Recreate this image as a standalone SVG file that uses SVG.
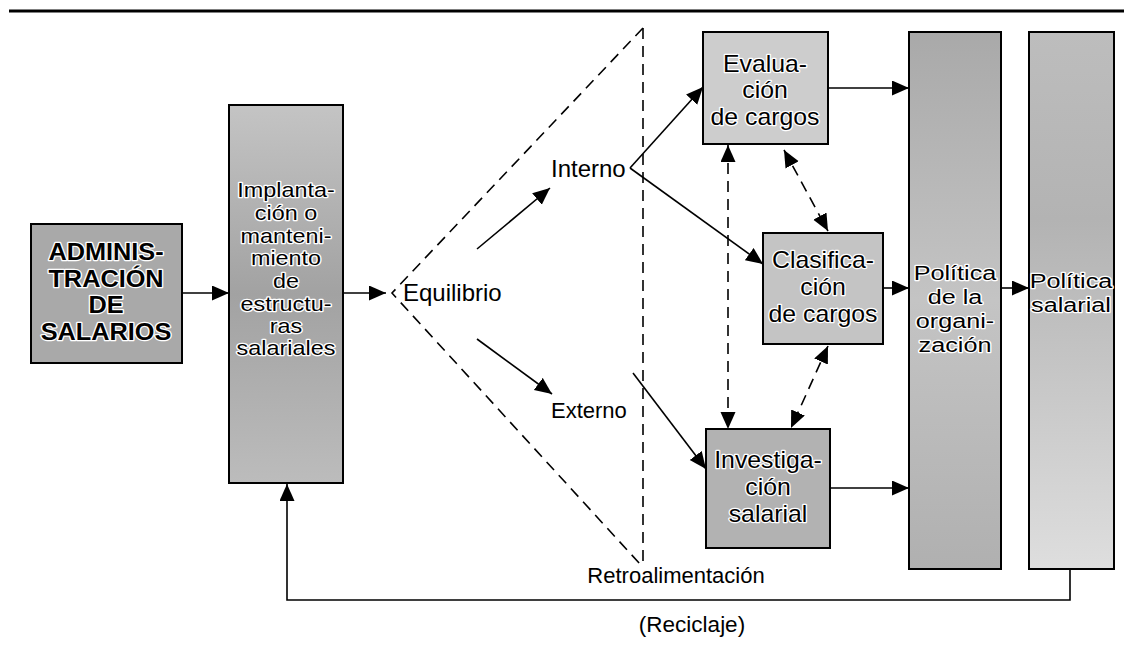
<svg xmlns="http://www.w3.org/2000/svg" width="1124" height="655" viewBox="0 0 1124 655">
<style>
.box{stroke:#000;stroke-width:2}
.t{font-family:"Liberation Sans",Arial,sans-serif;fill:#000;text-anchor:middle;stroke:#fff;stroke-width:2.5;paint-order:stroke;stroke-linejoin:round}
.s20{font-size:20px}
.s21{font-size:21px}
.s23{font-size:23px}
.b{font-weight:bold;font-size:23px}
.lbl{font-family:"Liberation Sans",Arial,sans-serif;fill:#000}
.ln{stroke:#000;stroke-width:1.6;fill:none}
.ds{stroke:#000;stroke-width:1.6;fill:none;stroke-dasharray:11 7}
</style>
<defs>
<marker id="ah" markerUnits="userSpaceOnUse" markerWidth="19" markerHeight="16" refX="17" refY="7.5" orient="auto-start-reverse">
<path d="M0,0 L17,7.5 L0,15 z" fill="#000"/>
</marker>
<linearGradient id="gOrg" x1="0" y1="0" x2="0" y2="1">
<stop offset="0" stop-color="#a9a9a9"/><stop offset="0.5" stop-color="#c4c4c4"/><stop offset="1" stop-color="#b0b0b0"/>
</linearGradient>
<linearGradient id="gSal" x1="0" y1="0" x2="0" y2="1">
<stop offset="0" stop-color="#bdbdbd"/><stop offset="0.35" stop-color="#b3b3b3"/><stop offset="1" stop-color="#dedede"/>
</linearGradient>
<linearGradient id="gImp" x1="0" y1="0" x2="0" y2="1">
<stop offset="0" stop-color="#c4c4c4"/><stop offset="0.5" stop-color="#a2a2a2"/><stop offset="1" stop-color="#bcbcbc"/>
</linearGradient>
</defs>
<rect width="1124" height="655" fill="#fff"/>
<line x1="9" y1="11" x2="1124" y2="11" stroke="#000" stroke-width="3"/>

<g id="connectors">
<line class="ln" x1="182" y1="293" x2="229" y2="293" marker-end="url(#ah)"/>
<line class="ln" x1="343" y1="293" x2="386" y2="293" marker-end="url(#ah)"/>
<path class="ds" d="M643,28 L392,293 L640,564"/>
<line class="ds" x1="643" y1="28" x2="643" y2="564"/>
<line class="ln" x1="477" y1="249" x2="550" y2="188" marker-end="url(#ah)"/>
<line class="ln" x1="477" y1="339" x2="552" y2="394" marker-end="url(#ah)"/>
<line class="ln" x1="630" y1="168" x2="703" y2="87" marker-end="url(#ah)"/>
<line class="ln" x1="630" y1="168" x2="763" y2="264" marker-end="url(#ah)"/>
<line class="ln" x1="633" y1="373" x2="706" y2="469" marker-end="url(#ah)"/>
<line class="ln" x1="828" y1="88" x2="909" y2="88" marker-end="url(#ah)"/>
<line class="ln" x1="883" y1="288" x2="909" y2="288" marker-end="url(#ah)"/>
<line class="ln" x1="830" y1="488" x2="909" y2="488" marker-end="url(#ah)"/>
<line class="ln" x1="1001" y1="288" x2="1029" y2="288" marker-end="url(#ah)"/>
<line class="ds" x1="728" y1="145" x2="728" y2="429" marker-start="url(#ah)" marker-end="url(#ah)"/>
<line class="ds" x1="784" y1="150" x2="828" y2="231" marker-start="url(#ah)" marker-end="url(#ah)"/>
<line class="ds" x1="828" y1="346" x2="791" y2="428" marker-start="url(#ah)" marker-end="url(#ah)"/>
<path class="ln" d="M1070,569 V600 H287 V484" marker-end="url(#ah)"/>
</g>

<g id="admin">
<rect class="box" x="31" y="224" width="151" height="139" fill="#a9a9a9"/>
<g transform="matrix(1.1 0 0 1 106 0)">
<text class="t b" x="0" y="260">ADMINIS-</text>
<text class="t b" x="0" y="287">TRACIÓN</text>
<text class="t b" x="0" y="313">DE</text>
<text class="t b" x="0" y="340">SALARIOS</text>
</g>
</g>

<g id="implantacion">
<rect class="box" x="229" y="105" width="114" height="378" fill="url(#gImp)"/>
<g transform="matrix(1.17 0 0 1 286 0)">
<text class="t s20" x="0" y="197">Implanta-</text>
<text class="t s20" x="0" y="220">ción o</text>
<text class="t s20" x="0" y="243">manteni-</text>
<text class="t s20" x="0" y="265">miento</text>
<text class="t s20" x="0" y="288">de</text>
<text class="t s20" x="0" y="311">estructu-</text>
<text class="t s20" x="0" y="333">ras</text>
<text class="t s20" x="0" y="355">salariales</text>
</g>
</g>

<g id="equilibrio"><text class="lbl" x="403" y="301" font-size="24">Equilibrio</text></g>
<g id="interno"><text class="lbl" x="551" y="177" font-size="24">Interno</text></g>
<g id="externo"><text class="lbl" x="551" y="418" font-size="22">Externo</text></g>

<g id="evaluacion">
<rect class="box" x="703" y="32" width="125" height="112" fill="#cdcdcd"/>
<g transform="matrix(1.08 0 0 1 765 0)">
<text class="t s23" x="0" y="72">Evalua-</text>
<text class="t s23" x="0" y="98">ción</text>
<text class="t s23" x="0" y="125">de cargos</text>
</g>
</g>

<g id="clasificacion">
<rect class="box" x="763" y="233" width="120" height="111" fill="#c4c4c4"/>
<g transform="matrix(1.08 0 0 1 823 0)">
<text class="t s23" x="0" y="268">Clasifica-</text>
<text class="t s23" x="0" y="295">ción</text>
<text class="t s23" x="0" y="322">de cargos</text>
</g>
</g>

<g id="investigacion">
<rect class="box" x="706" y="429" width="124" height="119" fill="#b2b2b2"/>
<g transform="matrix(1.08 0 0 1 768 0)">
<text class="t s23" x="0" y="468">Investiga-</text>
<text class="t s23" x="0" y="495">ción</text>
<text class="t s23" x="0" y="522">salarial</text>
</g>
</g>

<g id="politica-org">
<rect class="box" x="909" y="32" width="92" height="537" fill="url(#gOrg)"/>
<g transform="matrix(1.2 0 0 1 955 0)">
<text class="t s21" x="0" y="280">Política</text>
<text class="t s21" x="0" y="304">de la</text>
<text class="t s21" x="0" y="328">organi-</text>
<text class="t s21" x="0" y="352">zación</text>
</g>
</g>

<g id="politica-sal">
<rect class="box" x="1029" y="32" width="85" height="537" fill="url(#gSal)"/>
<g transform="matrix(1.2 0 0 1 1071 0)">
<text class="t s21" x="0" y="288">Política</text>
<text class="t s21" x="0" y="312">salarial</text>
</g>
</g>

<g id="retro"><text class="lbl" x="676" y="583" font-size="22" text-anchor="middle">Retroalimentación</text></g>
<g id="reciclaje"><text class="lbl" x="692" y="632" font-size="22.5" text-anchor="middle">(Reciclaje)</text></g>
</svg>
